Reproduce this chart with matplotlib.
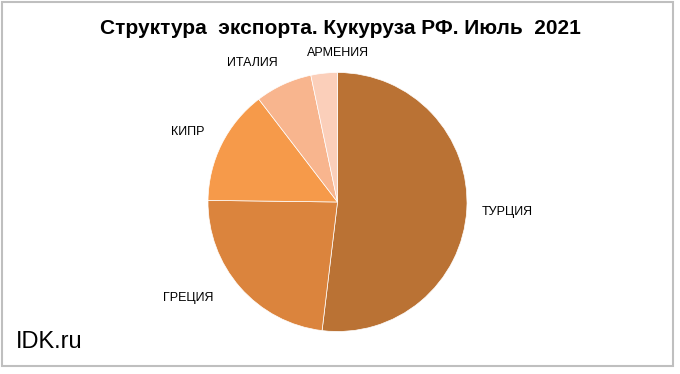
import matplotlib.pyplot as plt
from matplotlib.patches import Rectangle

plt.rcParams['font.family'] = ['Liberation Sans', 'DejaVu Sans']

countries = ["ТУРЦИЯ", "ГРЕЦИЯ", "КИПР", "ИТАЛИЯ", "АРМЕНИЯ"]
shares = [51.9, 23.3, 14.4, 7.1, 3.3]
colors = ["#BA7234", "#DB843D", "#F69A4A", "#F8B58E", "#FBCFBA"]

# label centres in pixels (x, y from top)
label_pos = [(507, 212), (188, 298), (188, 132), (252, 63), (338, 53)]

W, H = 680, 374
fig = plt.figure(figsize=(W / 100, H / 100), dpi=100)

cx, cy, r = 337.5, 202, 129.5
ax = fig.add_axes([(cx - r) / W, (H - cy - r) / H, 2 * r / W, 2 * r / H])
ax.pie(shares, colors=colors, startangle=90, counterclock=False,
       wedgeprops=dict(edgecolor="white", linewidth=0.5))
ax.set_xlim(-1, 1)
ax.set_ylim(-1, 1)
ax.set_aspect("equal")

for name, (x, y) in zip(countries, label_pos):
    fig.text(x / W, 1 - y / H, name, fontsize=9, ha="center", va="center")

fig.text(340 / W, 1 - 29 / H, "Структура  экспорта. Кукуруза РФ. Июль  2021",
         fontsize=15, fontweight="bold", ha="center", va="center")
fig.text(16 / W, 1 - 342 / H, "IDK.ru", fontsize=17, ha="left", va="center")

fig.patches.append(Rectangle((1.5 / W, 1 - 366 / H), 671 / W, 364 / H,
                             transform=fig.transFigure, fill=False,
                             edgecolor="#BFBFBF", linewidth=1.5))

fig.savefig("out.png", dpi=100)
